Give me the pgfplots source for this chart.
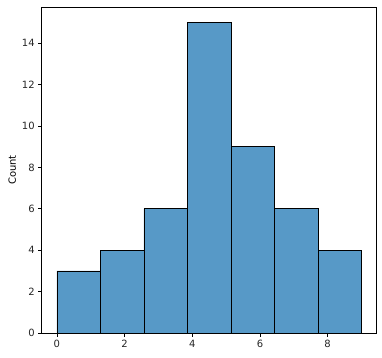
\documentclass[border=0pt]{standalone}
\usepackage{pgfplots}
\pgfplotsset{compat=1.18}
\usepackage{fontspec}
\setmainfont{DejaVu Sans}
\definecolor{barblue}{RGB}{87,153,199}
\begin{document}
\begin{tikzpicture}
\begin{axis}[
  scale only axis,
  width=335bp, height=326bp,
  xmin=-0.45, xmax=9.45,
  ymin=0, ymax=15.75,
  xtick={0,2,4,6,8},
  ytick={0,2,4,6,8,10,12,14},
  tick align=outside,
  tick pos=left,
  major tick length=3.5bp,
  tick style={black, line width=0.8bp},
  axis line style={line width=0.8bp},
  /pgf/number format/assume math mode=true,
  tick label style={font=\fontsize{10bp}{12bp}\selectfont, text=black!85},
  xticklabel style={yshift=-0.5bp},
  ylabel={Count},
  ylabel style={font=\fontsize{10bp}{12bp}\selectfont},
  every axis y label/.style={at={(axis description cs:0,0.5)}, xshift=-29.4bp, rotate=90, anchor=center},
]
\addplot[ybar interval, fill=barblue, draw=black, line width=0.8bp] coordinates {
(0,3) (1.285714,4) (2.571429,6) (3.857143,15) (5.142857,9) (6.428571,6) (7.714286,4) (9,4)
};
\end{axis}
\pgfresetboundingbox
\path[use as bounding box] ([xshift=-41.7bp,yshift=-24bp]current axis.south west) rectangle ([xshift=5.3bp,yshift=7bp]current axis.north east);
\end{tikzpicture}
\end{document}
